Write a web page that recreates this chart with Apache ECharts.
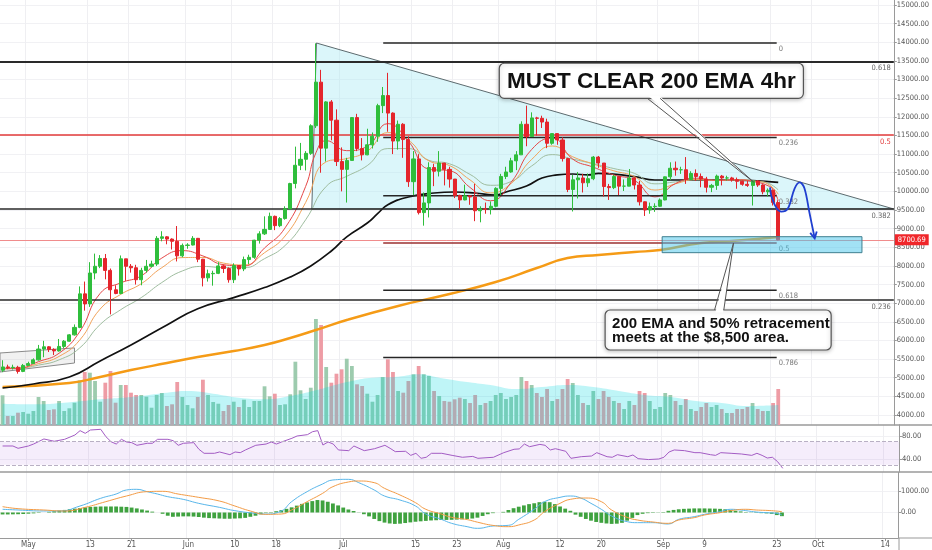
<!DOCTYPE html>
<html><head><meta charset="utf-8">
<script src="https://cdn.jsdelivr.net/npm/echarts@6/dist/echarts.min.js"></script>
<style>html,body{margin:0;padding:0;background:#fff}#c{width:932px;height:550px}</style>
</head><body><div id="c"></div>
<script>
// ---------- categories ----------
const dayCount = 174; // 2019-04-26 .. 2019-10-16
const dates = [];
(function(){const d0=Date.UTC(2019,3,26);for(let i=0;i<dayCount;i++){dates.push(new Date(d0+i*86400000).toISOString().slice(0,10));}})();
const tickDates  = ['2019-05-01','2019-05-13','2019-05-21','2019-06-01','2019-06-10','2019-06-18','2019-07-01','2019-07-15','2019-07-23','2019-08-01','2019-08-12','2019-08-20','2019-09-01','2019-09-09','2019-09-23','2019-10-01','2019-10-14'];
const tickLabels = ['May','13','21','Jun','10','18','Jul','15','23','Aug','12','20','Sep','9','23','Oct','14'];
const priceTicks = [4000,4500,5000,5500,6000,6500,7000,7500,8000,8500,9000,9500,10000,10500,11000,11500,12000,12500,13000,13500,14000,14500,15000];
const rsiTicks = [40,80];
const macdTicks = [0,1000];

// ---------- daily candles [open, close, low, high] ----------
const candles = [
[5200,5290,5150,5470],[5290,5270,5230,5350],[5270,5280,5220,5350],[5280,5170,5110,5320],[5170,5330,5150,5370],
[5330,5380,5320,5430],[5380,5480,5370,5520],[5480,5770,5460,5880],[5770,5830,5550,5990],[5830,5760,5690,5850],
[5760,5720,5610,5790],[5720,5840,5700,6040],[5840,5980,5790,6010],[5980,6150,5970,6170],[6150,6350,6130,6430],
[6350,7250,6330,7450],[7250,6980,6800,7580],[6980,7810,6900,8100],[7810,7990,7640,8330],[7990,8200,7940,8290],
[8200,7880,7640,8320],[7880,7360,6700,7930],[7360,7260,7240,7480],[7260,8190,7240,8280],[8190,7990,7600,8190],
[7990,7950,7820,8050],[7950,7630,7500,8030],[7630,7880,7480,7950],[7880,7990,7820,8160],[7990,8050,7960,8140],
[8050,8740,8000,8800],[8740,8780,8660,8930],[8780,8720,8580,8800],[8720,8660,8440,8740],[8660,8270,8120,9070],
[8270,8550,8230,8600],[8550,8560,8460,8610],[8560,8740,8550,8800],[8740,8180,8100,8750],[8180,7680,7450,8190],
[7680,7790,7580,7900],[7790,7800,7470,7870],[7800,8000,7780,8100],[8000,7930,7810,8040],[7930,7630,7550,7960],
[7630,8010,7540,8070],[8010,7920,7740,8020],[7920,8170,7860,8250],[8170,8230,8050,8300],[8230,8690,8190,8700],
[8690,8860,8600,8930],[8860,8980,8830,9330],[8980,9330,8980,9430],[9330,9080,8960,9350],[9080,9270,9040,9310],
[9270,9530,9240,9600],[9530,10210,9530,10230],[10210,10700,10080,11200],[10700,10860,10570,11300],[10860,11020,10560,11080],
[11020,11760,10980,11800],[11760,12930,11700,13970],[12930,11160,10500,13260],[11160,12400,10800,12420],[12400,11910,11370,12450],
[11910,10800,10680,12200],[10800,10590,10000,11180],[10590,10830,9700,10900],[10830,11980,10830,11990],[11980,11150,11080,12080],
[11150,10980,10830,11430],[10980,11250,10970,11680],[11250,11480,11150,11580],[11480,12300,11330,12350],[12300,12570,12100,12800],
[12570,12100,11600,13180],[12100,11350,11000,12120],[11350,11800,11120,11900],[11800,11390,10900,11830],[11390,10260,10120,11480],
[10260,10870,9900,11080],[10870,9430,9380,11000],[9430,9690,9080,9970],[9690,10640,9300,10780],[10640,10540,10140,10740],
[10540,10760,10400,11080],[10760,10590,10160,10760],[10590,10330,10100,10660],[10330,9890,9820,10330],[9890,9770,9530,9910],
[9770,9880,9760,10180],[9880,9850,9640,9880],[9850,9480,9200,10200],[9480,9530,9170,9600],[9530,9520,9400,9700],
[9520,9600,9380,9730],[9600,10080,9570,10110],[10080,10400,9900,10470],[10400,10520,10330,10660],[10520,10820,10500,10900],
[10820,10980,10570,11080],[10980,11800,10980,11880],[11800,11470,11210,12300],[11470,11970,11460,12120],[11970,11960,11500,12000],
[11960,11860,11700,12030],[11860,11290,11160,11950],[11290,11550,11250,11550],[11550,11380,11250,11550],[11380,10880,10800,11450],
[10880,10050,9980,10900],[10050,10310,9460,10440],[10310,10360,9810,10520],[10360,10230,9970,10470],[10230,10340,10120,10480],
[10340,10920,10300,10950],[10920,10760,10630,10950],[10760,10130,9860,10760],[10130,10100,9770,10200],[10100,10400,10060,10440],
[10400,10140,9900,10420],[10140,10140,10010,10320],[10140,10360,10140,10600],[10360,10170,10050,10380],[10170,9720,9620,10280],
[9720,9500,9340,9730],[9500,9590,9400,9700],[9590,9600,9450,9680],[9600,9770,9580,9810],[9770,10390,9760,10400],
[10390,10620,10300,10780],[10620,10580,10420,10800],[10580,10580,10470,10660],[10580,10320,10200,10920],[10320,10480,10300,10540],
[10480,10400,10280,10590],[10400,10330,10110,10480],[10330,10110,9970,10390],[10110,10160,9980,10200],[10160,10410,10040,10450],
[10410,10360,10160,10440],[10360,10360,10290,10420],[10360,10310,10260,10390],[10310,10270,10070,10370],[10270,10190,10150,10290],
[10190,10160,10120,10280],[10160,10280,9620,10300],[10280,10170,10120,10300],[10170,9990,9920,10190],[9990,10030,9860,10080],
[10030,9700,9620,10050],[9700,8700,8690,9760]
];
const lastPrice = 8700.69;

// ---------- volume ----------
const volume = [29700,9000,9000,12300,13000,11300,14000,28000,24000,15000,
15700,24000,14000,16700,22300,44700,53000,52300,44000,23300,
42300,54000,22300,40000,40000,32300,30000,30000,28300,17300,
30000,32000,19000,20700,43000,28000,20000,16700,28000,45300,
30000,23000,21300,14000,20000,23300,18000,25300,18000,24000,
24000,38700,28700,31300,20000,20700,30700,63300,34700,26000,
37300,106000,100000,58000,42300,51300,55700,66300,59000,40700,
39000,31300,23300,30000,48000,65700,53000,34000,32300,44000,
50700,59000,50700,49000,34000,29000,24000,23300,25700,27300,
26000,22000,30000,20000,22000,24000,30000,32000,26000,28000,
30000,48000,44000,40000,32000,28000,36000,24000,26000,36000,
46000,42000,30000,22000,20000,34000,26000,34000,28000,24000,
22000,16000,24000,20000,34000,32000,24000,16000,18000,32000,
30000,24000,20000,26000,16000,14000,18000,22000,18000,20000,
16000,12000,12000,16000,16000,18000,22000,16000,14000,14000,
22000,36000];
const volumeMA = [[0,21300],[6,20700],[12,22300],[19,25700],[25,28000],[32,32300],[36,34000],[41,31300],[46,27300],[51,25700],[56,29000],[61,34700],[64,39000],[68,44000],[72,47300],[77,48300],[81,50700],[85,47300],[90,43300],[95,40000],[100,36000],[105,38000],[110,40000],[115,38000],[120,34000],[125,30000],[130,28000],[135,24000],[140,22000],[145,19000],[151,20000]];

// ---------- moving averages ----------
const ema200 = [[0,4751],[13,4859],[19,5020],[25,5207],[32,5395],[38,5556],[45,5717],[51,5878],[56,6066],[61,6281],[67,6549],[77,6925],[87,7246],[96,7568],[104,7944],[110,8212],[116,8293],[123,8373],[128,8427],[136,8615],[142,8668],[151,8776]];
const maBlack = [[0,4724],[6,4832],[13,5020],[19,5450],[25,5878],[32,6415],[38,6850],[45,7150],[51,7420],[56,7700],[60,8000],[64,8400],[67,8780],[71,9150],[73,9400],[75,9640],[79,9849],[84,9956],[88,9983],[92,9956],[96,9903],[98,9983],[102,10144],[105,10359],[108,10440],[111,10466],[114,10440],[116,10485],[123,10394],[127,10305],[130,10305],[140,10305],[146,10286],[151,10243]];
const emaFast = [[0,5240],[3,5250],[7,5432],[11,5658],[15,6232],[19,7263],[23,7545],[27,7734],[31,8210],[35,8410],[39,8268],[43,8033],[47,7998],[51,8482],[55,9021],[59,10133],[61,11034],[63,11361],[67,11092],[71,11210],[75,11817],[79,11346],[83,10596],[87,10552],[91,10105],[95,9748],[99,10242],[103,11124],[107,11433],[111,10865],[115,10649],[119,10441],[123,10295],[127,9852],[131,10210],[135,10353],[139,10298],[143,10309],[147,10240],[149,10151],[150,10050],[151,9750]];
const emaMid = [[0,5250],[3,5260],[7,5381],[11,5572],[15,6007],[19,6843],[23,7236],[27,7522],[31,7952],[35,8223],[39,8227],[43,8076],[47,8026],[51,8355],[55,8803],[59,9702],[63,10794],[67,10880],[71,11077],[75,11576],[79,11373],[83,10816],[87,10693],[91,10308],[95,9958],[99,10211],[103,10857],[107,11217],[111,10927],[115,10734],[119,10551],[123,10398],[127,10035],[131,10202],[135,10315],[139,10295],[143,10310],[147,10263],[149,10197],[151,9923]];
const emaSlow = [[0,5260],[3,5260],[7,5338],[11,5480],[15,5797],[19,6428],[23,6825],[27,7150],[31,7554],[35,7865],[39,7987],[43,7955],[47,7953],[51,8195],[55,8548],[59,9238],[63,10133],[67,10404],[71,10691],[75,11148],[79,11149],[83,10832],[87,10740],[91,10455],[95,10163],[99,10263],[103,10681],[107,10986],[111,10864],[115,10743],[119,10612],[123,10483],[127,10202],[131,10254],[135,10312],[139,10293],[143,10302],[147,10268],[149,10222],[151,10039]];

// ---------- RSI ----------
const rsi = [[0,62.6],[2,62.6],[3,58.6],[5,62.6],[6,66],[8,74.8],[10,70.8],[12,74.2],[14,81.7],[15,89.3],[16,84.6],[17,90.4],[19,91.6],[20,78.8],[21,70],[22,66],[23,74.2],[24,69.6],[25,68.4],[26,63.8],[28,67.3],[29,67.3],[30,74.2],[32,74.2],[33,71.9],[34,63.8],[35,67.3],[37,68.4],[38,56.9],[39,49.9],[41,49.9],[42,52.2],[44,47.5],[45,52.2],[46,51],[47,55.7],[49,63.8],[51,66],[52,69.6],[53,66],[54,69.6],[56,76],[57,80],[59,82.3],[60,87.5],[61,89.3],[62,64.3],[63,69.6],[64,66],[65,55.7],[67,54.5],[68,62.6],[70,54.5],[72,57.9],[74,63.8],[75,58.6],[76,52.8],[78,53.4],[79,46.3],[80,49.9],[81,41.2],[82,43],[83,49.9],[85,49.9],[87,46.3],[89,43],[91,44.5],[92,41.2],[95,43],[97,51],[99,56.9],[100,57.5],[101,66],[102,61.4],[104,65.4],[105,63.8],[106,55.7],[107,57.9],[109,53.4],[110,41.2],[112,44],[114,45.2],[115,51],[117,44],[118,43],[119,47.5],[121,44],[122,47],[123,40.6],[125,39],[127,40],[128,43],[129,52.2],[130,55.7],[132,54.5],[134,51],[135,51],[137,47.5],[138,46.3],[139,51],[141,49.9],[143,48.7],[145,46.3],[146,49.9],[147,46.3],[148,41.7],[149,43],[150,35.4],[151,23.8]];
const rsiBand = [30,70];

// ---------- MACD ----------
const macdLine = [[0,149],[3,116],[8,70],[11,70],[15,302],[19,660],[22,860],[24,1047],[26,1078],[28,969],[30,860],[32,736],[35,612],[38,426],[42,240],[45,85],[49,-39],[51,-70],[54,70],[56,504],[59,969],[62,1326],[64,1512],[67,1543],[69,1388],[72,1047],[74,767],[77,581],[80,302],[82,-70],[85,-318],[87,-504],[90,-659],[92,-736],[95,-628],[98,-597],[100,-318],[103,149],[105,504],[108,705],[110,767],[112,674],[114,426],[116,149],[118,-163],[121,-426],[123,-473],[126,-473],[129,-535],[131,-318],[134,-194],[136,-85],[139,39],[141,149],[143,116],[146,23],[148,-8],[150,-39],[151,-120]];
const signalLine = [[0,271],[3,178],[8,116],[12,70],[16,240],[20,504],[24,767],[28,969],[31,985],[34,860],[38,705],[42,535],[45,302],[48,70],[51,-85],[54,-70],[56,116],[59,504],[62,891],[64,1202],[67,1419],[69,1465],[72,1388],[74,1124],[77,814],[80,457],[82,149],[85,-70],[87,-225],[90,-330],[92,-450],[95,-600],[98,-659],[100,-581],[103,-349],[105,39],[108,426],[110,612],[113,674],[116,504],[118,116],[121,-225],[123,-349],[126,-442],[129,-504],[131,-349],[134,-240],[136,-116],[139,-8],[141,85],[144,149],[146,116],[149,85],[151,39]];
const macdHist = [-90,-90,-85,-80,-70,-55,-40,-20,0,30,
60,90,120,150,180,210,240,260,270,280,
280,280,280,270,260,230,190,140,90,40,
0,-60,-150,-200,-190,-180,-180,-190,-210,-240,
-260,-270,-280,-290,-290,-280,-270,-250,-200,-150,
-80,-20,20,60,110,170,240,320,400,470,
530,580,560,500,420,330,230,140,70,10,
-80,-180,-300,-400,-470,-510,-530,-520,-490,-460,
-430,-410,-390,-370,-360,-350,-345,-340,-330,-320,
-300,-280,-240,-160,-80,-30,0,30,116,200,
270,330,390,430,480,500,480,390,280,180,
80,-100,-200,-300,-380,-440,-480,-510,-530,-520,
-480,-380,-250,-120,-60,-30,-20,-10,20,80,
120,150,170,180,190,190,190,185,180,170,
150,120,80,50,20,-10,-20,-30,-40,-60,
-120,-170];

// ---------- drawings (in [day index, price]) ----------
const fibWide = [[0.236,7090],[0.382,9530],[0.5,11510],[0.618,13490]];
const fib2Range = [74.1,150.7];
const fib2Levels = [[0,13980],[0.236,11448],[0.382,9881],[0.5,8615],[0.618,7349],[0.786,5546]];
const triangle = [[61.1,13980],[173.5,9527],[60.2,9527]];
const channel = [[-0.5,5664],[14,5800],[14,5395],[-0.5,5154]];
const targetBox = [[128.4,8784],[167.3,8355]];
const arrowPath = [[149.4,10109],[149.7,9857],[150.7,9546],[151.6,9455],[152.9,9546],[154.2,10083],[155.2,10243],[156.1,10083],[157.1,9412],[158.1,8741]];
const note1Box = [[96.7,13437],[155.9,12497]];
const note1Tail = [[125.5,12497],[128.0,12497],[146.2,10251]];
const note1Text = ['MUST CLEAR 200 EMA 4hr'];
const note2Box = [[117.3,6817],[161.3,5744]];
const note2Tail = [[138.6,6817],[140.4,6817],[142.3,8615]];
const note2Text = ['200 EMA and 50% retracement','meets at the $8,500 area.'];

// ---------- chart ----------
const AXF = "'Liberation Sans Narrow','DejaVu Sans Condensed','Liberation Sans',sans-serif";
const BOLDF = "'Liberation Sans',Arial,sans-serif";
const tickSet = new Set(tickDates);
const labelMap = {}; tickDates.forEach((d,i)=>labelMap[d]=tickLabels[i]);
const isTick = (i,v)=>tickSet.has(v);
const AXIS_C = '#9a9a9a';
const RIGHT = 33;

function catAxis(grid, extra){
  return Object.assign({type:'category',gridIndex:grid,data:dates,boundaryGap:true,
    axisLine:{show:false,onZero:false},axisTick:{show:false},axisLabel:{show:false},
    splitLine:{show:true,interval:isTick,lineStyle:{color:'#efeff2',width:1}}},extra||{});
}
function yAx(grid,min,max,ticks){
  return {type:'value',gridIndex:grid,position:'right',min:min,max:max,
    axisLine:{show:true,onZero:false,lineStyle:{color:AXIS_C,width:1}},
    axisTick:{show:true,length:3,customValues:ticks,lineStyle:{color:AXIS_C}},
    axisLabel:{show:true,customValues:ticks,formatter:v=>Number(v).toFixed(2),fontSize:7.5,color:'#555',margin:3,fontFamily:AXF},
    splitLine:{show:true,lineStyle:{color:'#f1f1f4',width:1}}};
}
function once(fn){return (params,api)=>params.dataIndex===0?fn(api):null;}
function rectFrom(api,box){
  const a=api.coord(box[0]),b=api.coord(box[1]);
  return {x:Math.min(a[0],b[0]),y:Math.min(a[1],b[1]),width:Math.abs(b[0]-a[0]),height:Math.abs(b[1]-a[1])};
}
function callout(box,tail,lines,font,lh,align){
  return once(api=>{
    const r=rectFrom(api,box);
    const t=tail.map(p=>api.coord(p));
    const dir = t[2][1] < t[0][1] ? 2.5 : -2.5;
    const fillPts=[[t[0][0]+0.8,t[0][1]+dir],[t[1][0]-0.8,t[1][1]+dir],t[2]];
    return {type:'group',children:[
      {type:'rect',shape:Object.assign({r:5},r),style:{fill:'#fff',stroke:'#555',lineWidth:1.2,shadowBlur:4,shadowColor:'rgba(0,0,0,0.25)',shadowOffsetY:1}},
      {type:'polygon',shape:{points:fillPts},style:{fill:'#fff'}},
      {type:'line',shape:{x1:t[0][0],y1:t[0][1],x2:t[2][0],y2:t[2][1]},style:{stroke:'#555',lineWidth:1}},
      {type:'line',shape:{x1:t[1][0],y1:t[1][1],x2:t[2][0],y2:t[2][1]},style:{stroke:'#555',lineWidth:1}},
      {type:'text',style:{text:lines.join('\n'),x: align==='center'? r.x+r.width/2 : r.x+7, y:r.y+r.height/2+1,
        textAlign:align,textVerticalAlign:'middle',font:font,lineHeight:lh,fill:'#111'}}
    ]};
  });
}

const upC='#2fbe3c', dnC='#e4252c';
const option = {
  animation:false,
  backgroundColor:'#fff',
  grid:[
    {left:0,right:RIGHT,top:0,height:425},
    {left:0,right:RIGHT,top:425,height:47},
    {left:0,right:RIGHT,top:472,height:66}
  ],
  graphic:[
    {type:'line',silent:true,shape:{x1:932-RIGHT,y1:425,x2:932,y2:425},style:{stroke:AXIS_C,lineWidth:1.5}},
    {type:'line',silent:true,shape:{x1:932-RIGHT,y1:472,x2:932,y2:472},style:{stroke:AXIS_C,lineWidth:1.5}},
    {type:'line',silent:true,shape:{x1:932-RIGHT,y1:538,x2:932,y2:538},style:{stroke:AXIS_C,lineWidth:1.2}},
    {type:'line',silent:true,shape:{x1:932-RIGHT,y1:538,x2:932-RIGHT,y2:550},style:{stroke:AXIS_C,lineWidth:1}}
  ],
  xAxis:[
    catAxis(0),
    catAxis(1,{position:'top',axisLine:{show:true,onZero:false,lineStyle:{color:AXIS_C,width:1.5}}}),
    catAxis(2,{position:'bottom',axisLine:{show:true,onZero:false,lineStyle:{color:AXIS_C,width:1.2}},
      axisTick:{show:true,interval:isTick,alignWithLabel:true,length:3,lineStyle:{color:AXIS_C}},
      axisLabel:{show:true,interval:isTick,formatter:v=>labelMap[v]||'',fontSize:8,color:'#555',margin:3,fontFamily:AXF}}),
    {type:'value',gridIndex:0,min:-0.5,max:173.5,show:false},
    catAxis(2,{position:'top',splitLine:{show:false},axisLine:{show:true,onZero:false,lineStyle:{color:AXIS_C,width:1.5}}})
  ],
  yAxis:[
    yAx(0,3732,15134,priceTicks),
    {type:'value',gridIndex:0,min:0,max:425000,show:false},
    yAx(1,17.4,99.1,rsiTicks),
    yAx(2,-1186,1884,macdTicks)
  ],
  series:[
    {type:'custom',name:'triangle',xAxisIndex:3,yAxisIndex:0,z:1,silent:true,clip:true,data:[triangle[0]],encode:{x:0,y:1},
     renderItem:once(api=>({type:'polygon',shape:{points:triangle.map(p=>api.coord(p))},style:{fill:'rgba(170,234,242,0.42)',stroke:'#5c6a6e',lineWidth:1}}))},
    {type:'custom',name:'channel',xAxisIndex:3,yAxisIndex:0,z:1,silent:true,clip:true,data:[channel[0]],encode:{x:0,y:1},
     renderItem:once(api=>({type:'polygon',shape:{points:channel.map(p=>api.coord(p))},style:{fill:'rgba(190,190,190,0.22)',stroke:'#8a8a8a',lineWidth:1}}))},
    {type:'bar',name:'volume',xAxisIndex:0,yAxisIndex:1,z:2,barWidth:3.8,silent:true,
     data:volume.map((v,i)=>({value:v,itemStyle:{color:candles[i][1]>=candles[i][0]?'#9dcbae':'#ee9ca5'}}))},
    {type:'line',name:'volMA',xAxisIndex:0,yAxisIndex:1,z:3,smooth:true,symbol:'none',silent:true,data:volumeMA,
     lineStyle:{width:0},areaStyle:{color:'rgba(0,214,224,0.36)',origin:'start'}},
    {type:'line',name:'ema200',xAxisIndex:0,yAxisIndex:0,z:4,smooth:true,symbol:'none',silent:true,data:ema200,lineStyle:{color:'#f59b16',width:2.4}},
    {type:'line',name:'ma',xAxisIndex:0,yAxisIndex:0,z:4,smooth:true,symbol:'none',silent:true,data:maBlack,lineStyle:{color:'#111',width:1.7}},
    {type:'line',name:'emaSlow',xAxisIndex:0,yAxisIndex:0,z:4,smooth:true,symbol:'none',silent:true,data:emaSlow,lineStyle:{color:'#9fbd9f',width:1}},
    {type:'line',name:'emaMid',xAxisIndex:0,yAxisIndex:0,z:4,smooth:true,symbol:'none',silent:true,data:emaMid,lineStyle:{color:'#f2a35a',width:1}},
    {type:'line',name:'emaFast',xAxisIndex:0,yAxisIndex:0,z:4,smooth:true,symbol:'none',silent:true,data:emaFast,lineStyle:{color:'#e54848',width:1}},
    {type:'custom',name:'fib2',xAxisIndex:3,yAxisIndex:0,z:5,silent:true,clip:false,
     data:fib2Levels.map(l=>[fib2Range[0],l[1]]),encode:{x:0,y:1},
     renderItem:(params,api)=>{
       const l=fib2Levels[params.dataIndex];
       const a=api.coord([fib2Range[0],l[1]]),b=api.coord([fib2Range[1],l[1]]);
       return {type:'group',children:[
         {type:'line',shape:{x1:a[0],y1:a[1],x2:b[0],y2:b[1]},style:{stroke:l[0]===0.5?'#9a3030':'#262626',lineWidth:1.5}},
         {type:'text',style:{text:String(l[0]),x:b[0]+2,y:b[1]+2,textAlign:'left',textVerticalAlign:'top',font:'7.5px '+AXF,fill:'#777'}}
       ]};
     }},
    {type:'candlestick',name:'BTCUSD',xAxisIndex:0,yAxisIndex:0,z:6,barWidth:3.6,silent:true,data:candles,
     itemStyle:{color:upC,color0:dnC,borderColor:upC,borderColor0:dnC,borderWidth:1},
     markLine:{silent:true,symbol:['none','none'],animation:false,
       data:fibWide.map(f=>({yAxis:f[1],lineStyle:{color:f[0]===0.5?'#e23a3a':'#2a2a2a',width:f[0]===0.618?2:1.6,type:'solid'},
         label:{show:true,position:'insideEndBottom',formatter:String(f[0]),fontSize:7.5,color:f[0]===0.5?'#e23a3a':'#666',fontFamily:AXF,distance:3}}))
         .concat([{yAxis:lastPrice,lineStyle:{color:'#f08c8c',width:1,type:'solid'},
           label:{show:true,position:'end',formatter:lastPrice.toFixed(2),backgroundColor:'#f0262a',color:'#fff',padding:[2,3,1,3],fontSize:7.5,fontFamily:AXF,distance:1}}])}},
    {type:'custom',name:'target',xAxisIndex:3,yAxisIndex:0,z:7,silent:true,clip:false,data:[targetBox[0]],encode:{x:0,y:1},
     renderItem:once(api=>({type:'rect',shape:rectFrom(api,targetBox),style:{fill:'rgba(70,198,236,0.5)',stroke:'#3f7f8f',lineWidth:1}}))},
    {type:'custom',name:'arrow',xAxisIndex:3,yAxisIndex:0,z:8,silent:true,clip:false,data:[arrowPath[0]],encode:{x:0,y:1},
     renderItem:once(api=>{
       const pts=arrowPath.map(p=>api.coord(p));const n=pts.length,e=pts[n-1],s=pts[n-2];
       const ang=Math.atan2(e[1]-s[1],e[0]-s[0]),L=7,sp=0.5;
       const h1=[e[0]-L*Math.cos(ang-sp),e[1]-L*Math.sin(ang-sp)],h2=[e[0]-L*Math.cos(ang+sp),e[1]-L*Math.sin(ang+sp)];
       return {type:'group',children:[
         {type:'polyline',shape:{points:pts,smooth:0.35},style:{stroke:'#1f3fd0',lineWidth:1.8,fill:null}},
         {type:'polyline',shape:{points:[h1,e,h2]},style:{stroke:'#1f3fd0',lineWidth:1.8,fill:null}}]};
     })},
    {type:'custom',name:'note1',xAxisIndex:3,yAxisIndex:0,z:9,silent:true,clip:false,data:[note1Box[0]],encode:{x:0,y:1},
     renderItem:callout(note1Box,note1Tail,note1Text,'bold 22.5px '+BOLDF,24,'center')},
    {type:'custom',name:'note2',xAxisIndex:3,yAxisIndex:0,z:9,silent:true,clip:false,data:[note2Box[0]],encode:{x:0,y:1},
     renderItem:callout(note2Box,note2Tail,note2Text,'bold 15px '+BOLDF,14,'left')},
    {type:'line',name:'RSI',xAxisIndex:1,yAxisIndex:2,z:4,symbol:'none',silent:true,data:rsi,lineStyle:{color:'#a35cc4',width:1},
     markArea:{silent:true,itemStyle:{color:'rgba(160,90,220,0.11)'},data:[[{yAxis:rsiBand[0]},{yAxis:rsiBand[1]}]]},
     markLine:{silent:true,symbol:['none','none'],label:{show:false},lineStyle:{color:'#b9b0c4',type:'dashed',width:1},
       data:[{yAxis:rsiBand[0]},{yAxis:rsiBand[1]}]}},
    {type:'bar',name:'hist',xAxisIndex:2,yAxisIndex:3,z:3,barWidth:3.8,silent:true,data:macdHist,itemStyle:{color:'#3fa23f'}},
    {type:'line',name:'MACD',xAxisIndex:2,yAxisIndex:3,z:4,smooth:true,symbol:'none',silent:true,data:macdLine,lineStyle:{color:'#58b6ea',width:1}},
    {type:'line',name:'Signal',xAxisIndex:2,yAxisIndex:3,z:4,smooth:true,symbol:'none',silent:true,data:signalLine,lineStyle:{color:'#f39b45',width:1}}
  ]
};
const chart = echarts.init(document.getElementById('c'));
chart.setOption(option);
</script></body></html>
